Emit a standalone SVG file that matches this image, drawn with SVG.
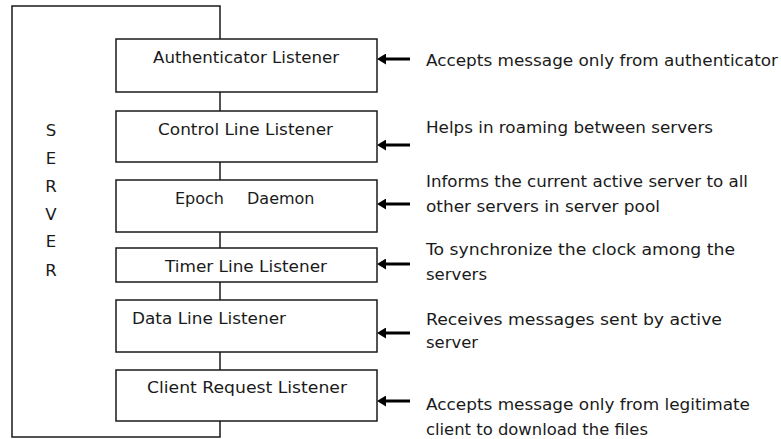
<svg xmlns="http://www.w3.org/2000/svg" width="781" height="439" viewBox="0 0 781 439">
<style>
  .box { fill: #ffffff; stroke: #1a1a1a; stroke-width: 1.5; }
  .line { fill: none; stroke: #1a1a1a; stroke-width: 1.5; }
  .arrow { fill: none; stroke: #000000; stroke-width: 3; marker-end: url(#head); }
  text { font-family: "DejaVu Sans", "Liberation Sans", sans-serif; font-size: 16px; fill: #1a1a1a; }
  .lbl { font-size: 16px; }
  .srv { text-anchor: middle; font-size: 16.5px; }
</style>
<defs>
  <marker id="head" markerUnits="userSpaceOnUse" markerWidth="9" markerHeight="11" refX="2" refY="5.5" orient="auto" viewBox="0 0 9 11">
    <path d="M0,0 L9,5.5 L0,11 z" fill="#000000"/>
  </marker>
</defs>
<rect width="781" height="439" fill="#ffffff"/>

<g id="connectors">
  <path class="line" d="M220,39 V6 H12 V437 H220 V421"/>
  <path class="line" d="M220,92 V111"/>
  <path class="line" d="M220,162 V180"/>
  <path class="line" d="M220,232 V248"/>
  <path class="line" d="M220,282 V300"/>
  <path class="line" d="M220,352 V370"/>
  <path class="arrow" d="M410,59 H384"/>
  <path class="arrow" d="M410,145 H384"/>
  <path class="arrow" d="M410,204 H384"/>
  <path class="arrow" d="M410,264 H384"/>
  <path class="arrow" d="M410,333 H384"/>
  <path class="arrow" d="M410,401 H384"/>
</g>

<g id="server-label">
  <text class="srv" x="51" y="136">S</text>
  <text class="srv" x="51" y="164">E</text>
  <text class="srv" x="51" y="192">R</text>
  <text class="srv" x="51" y="220">V</text>
  <text class="srv" x="51" y="247">E</text>
  <text class="srv" x="51" y="276">R</text>
</g>

<g id="authenticator-listener">
  <rect class="box" x="116" y="39" width="261" height="53"/>
  <text class="lbl" x="153" y="63" textLength="186" lengthAdjust="spacingAndGlyphs">Authenticator Listener</text>
</g>
<g id="control-line-listener">
  <rect class="box" x="116" y="111" width="261" height="51"/>
  <text class="lbl" x="158" y="135" textLength="175" lengthAdjust="spacingAndGlyphs">Control Line Listener</text>
</g>
<g id="epoch-daemon">
  <rect class="box" x="116" y="180" width="261" height="52"/>
  <text class="lbl" y="204" font-size="16.8"><tspan x="175">Epoch</tspan><tspan x="247">Daemon</tspan></text>
</g>
<g id="timer-line-listener">
  <rect class="box" x="116" y="248" width="261" height="34"/>
  <text class="lbl" x="165" y="272" textLength="162" lengthAdjust="spacingAndGlyphs">Timer Line Listener</text>
</g>
<g id="data-line-listener">
  <rect class="box" x="116" y="300" width="261" height="52"/>
  <text class="lbl" x="132" y="324" textLength="154" lengthAdjust="spacingAndGlyphs">Data Line Listener</text>
</g>
<g id="client-request-listener">
  <rect class="box" x="116" y="370" width="261" height="51"/>
  <text class="lbl" x="147" y="393" textLength="200" lengthAdjust="spacingAndGlyphs">Client Request Listener</text>
</g>

<g id="descriptions">
  <text x="426" y="66" textLength="352" lengthAdjust="spacingAndGlyphs">Accepts message only from authenticator</text>
  <text x="426" y="133" textLength="287" lengthAdjust="spacingAndGlyphs">Helps in roaming between servers</text>
  <text x="426" y="187" textLength="322" lengthAdjust="spacingAndGlyphs">Informs the current active server to all</text>
  <text x="426" y="212" textLength="234" lengthAdjust="spacingAndGlyphs">other servers in server pool</text>
  <text x="426" y="255" textLength="309" lengthAdjust="spacingAndGlyphs">To synchronize the clock among the</text>
  <text x="426" y="280" textLength="61" lengthAdjust="spacingAndGlyphs">servers</text>
  <text x="426" y="325" textLength="296" lengthAdjust="spacingAndGlyphs">Receives messages sent by active</text>
  <text x="426" y="348" textLength="52" lengthAdjust="spacingAndGlyphs">server</text>
  <text x="426" y="410" textLength="324" lengthAdjust="spacingAndGlyphs">Accepts message only from legitimate</text>
  <text x="426" y="435" textLength="222" lengthAdjust="spacingAndGlyphs">client to download the files</text>
</g>
</svg>
